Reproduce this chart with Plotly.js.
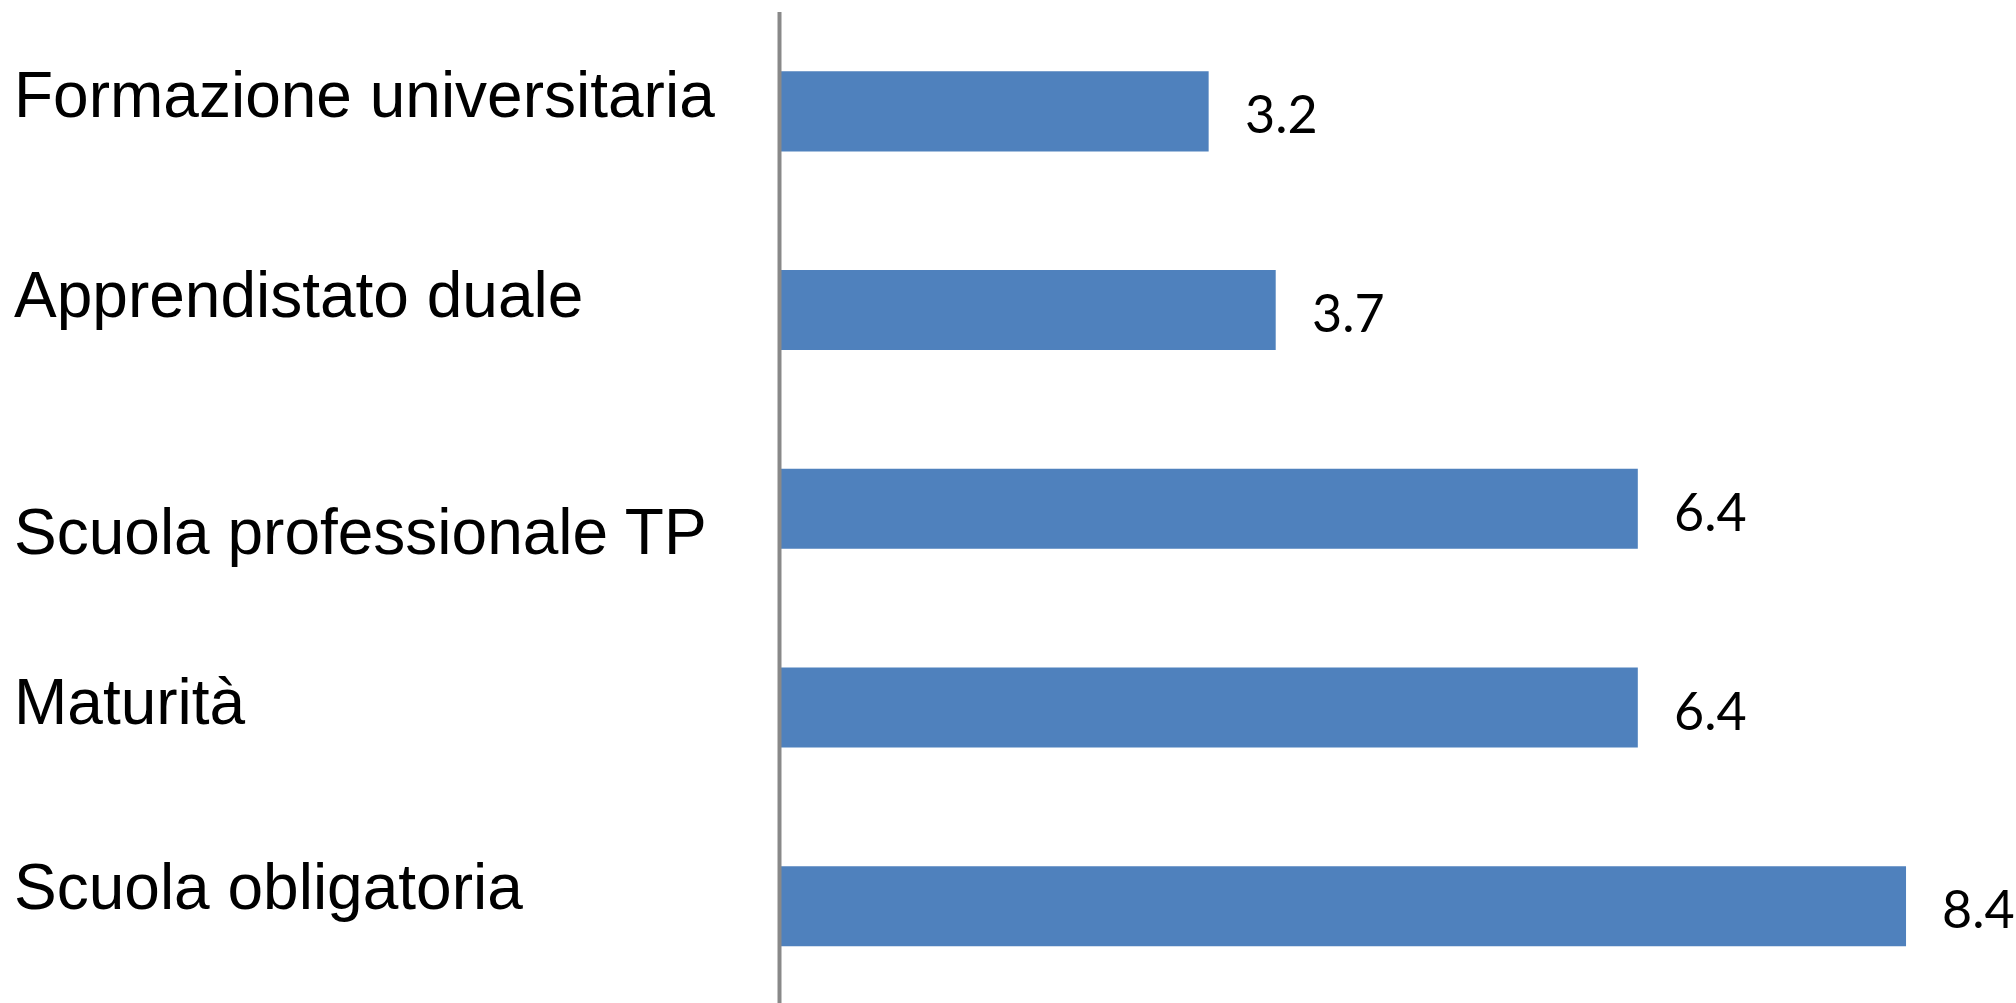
<!DOCTYPE html>
<html>
<head>
<meta charset="utf-8">
<script src="https://cdn.plot.ly/plotly-3.0.1.min.js"></script>
<style>
html,body{margin:0;padding:0;background:#fff;}
#chart{width:2016px;height:1003px;}
</style>
</head>
<body>
<div id="chart"></div>
<script>
// Data
const categories = [
  "Formazione universitaria",
  "Apprendistato duale",
  "Scuola professionale TP",
  "Maturità",
  "Scuola obligatoria"
];
const values = [3.2, 3.7, 6.4, 6.4, 8.4];
const valueLabels = ["3.2", "3.7", "6.4", "6.4", "8.4"];

// Layout-only vertical offsets of the category labels (px, positive = up)
const labelShift = [16, 15, -23, 6, 19];

const trace = {
  type: "bar",
  orientation: "h",
  y: categories,
  x: values,
  marker: {color: "#4F81BD", line: {width: 0}},
  hoverinfo: "x+y"
};

const annotations = [];
categories.forEach((c, i) => {
  annotations.push({
    xref: "paper", yref: "y",
    x: -0.6083, y: c,
    xanchor: "left", yanchor: "middle",
    yshift: labelShift[i],
    text: c, showarrow: false,
    font: {family: "Liberation Sans, Arial, sans-serif", size: 64, color: "#000000"}
  });
  annotations.push({
    xref: "x", yref: "y",
    x: values[i], y: c,
    xanchor: "left", yanchor: "middle",
    xshift: 34, yshift: -2,
    text: valueLabels[i], showarrow: false,
    font: {family: "Lato, Open Sans, sans-serif", size: 52, color: "#000000"}
  });
});

const layout = {
  width: 2016, height: 1003,
  margin: {l: 770, r: 0, t: 12, b: 0, pad: 0},
  paper_bgcolor: "#ffffff",
  plot_bgcolor: "#ffffff",
  showlegend: false,
  bargap: 0.597,
  xaxis: {
    range: [-0.0708, 9.22],
    showgrid: false, zeroline: false, showline: false,
    showticklabels: false, ticks: "", fixedrange: true
  },
  yaxis: {
    type: "category",
    range: [4.487, -0.5],
    showgrid: false, zeroline: false, showline: false,
    showticklabels: false, ticks: "", fixedrange: true
  },
  shapes: [{
    type: "line", xref: "x", yref: "paper",
    x0: 0, x1: 0, y0: 0, y1: 1,
    line: {color: "#898989", width: 4},
    layer: "above"
  }],
  annotations: annotations
};

Plotly.newPlot("chart", [trace], layout, {staticPlot: true, displayModeBar: false});
</script>
</body>
</html>
